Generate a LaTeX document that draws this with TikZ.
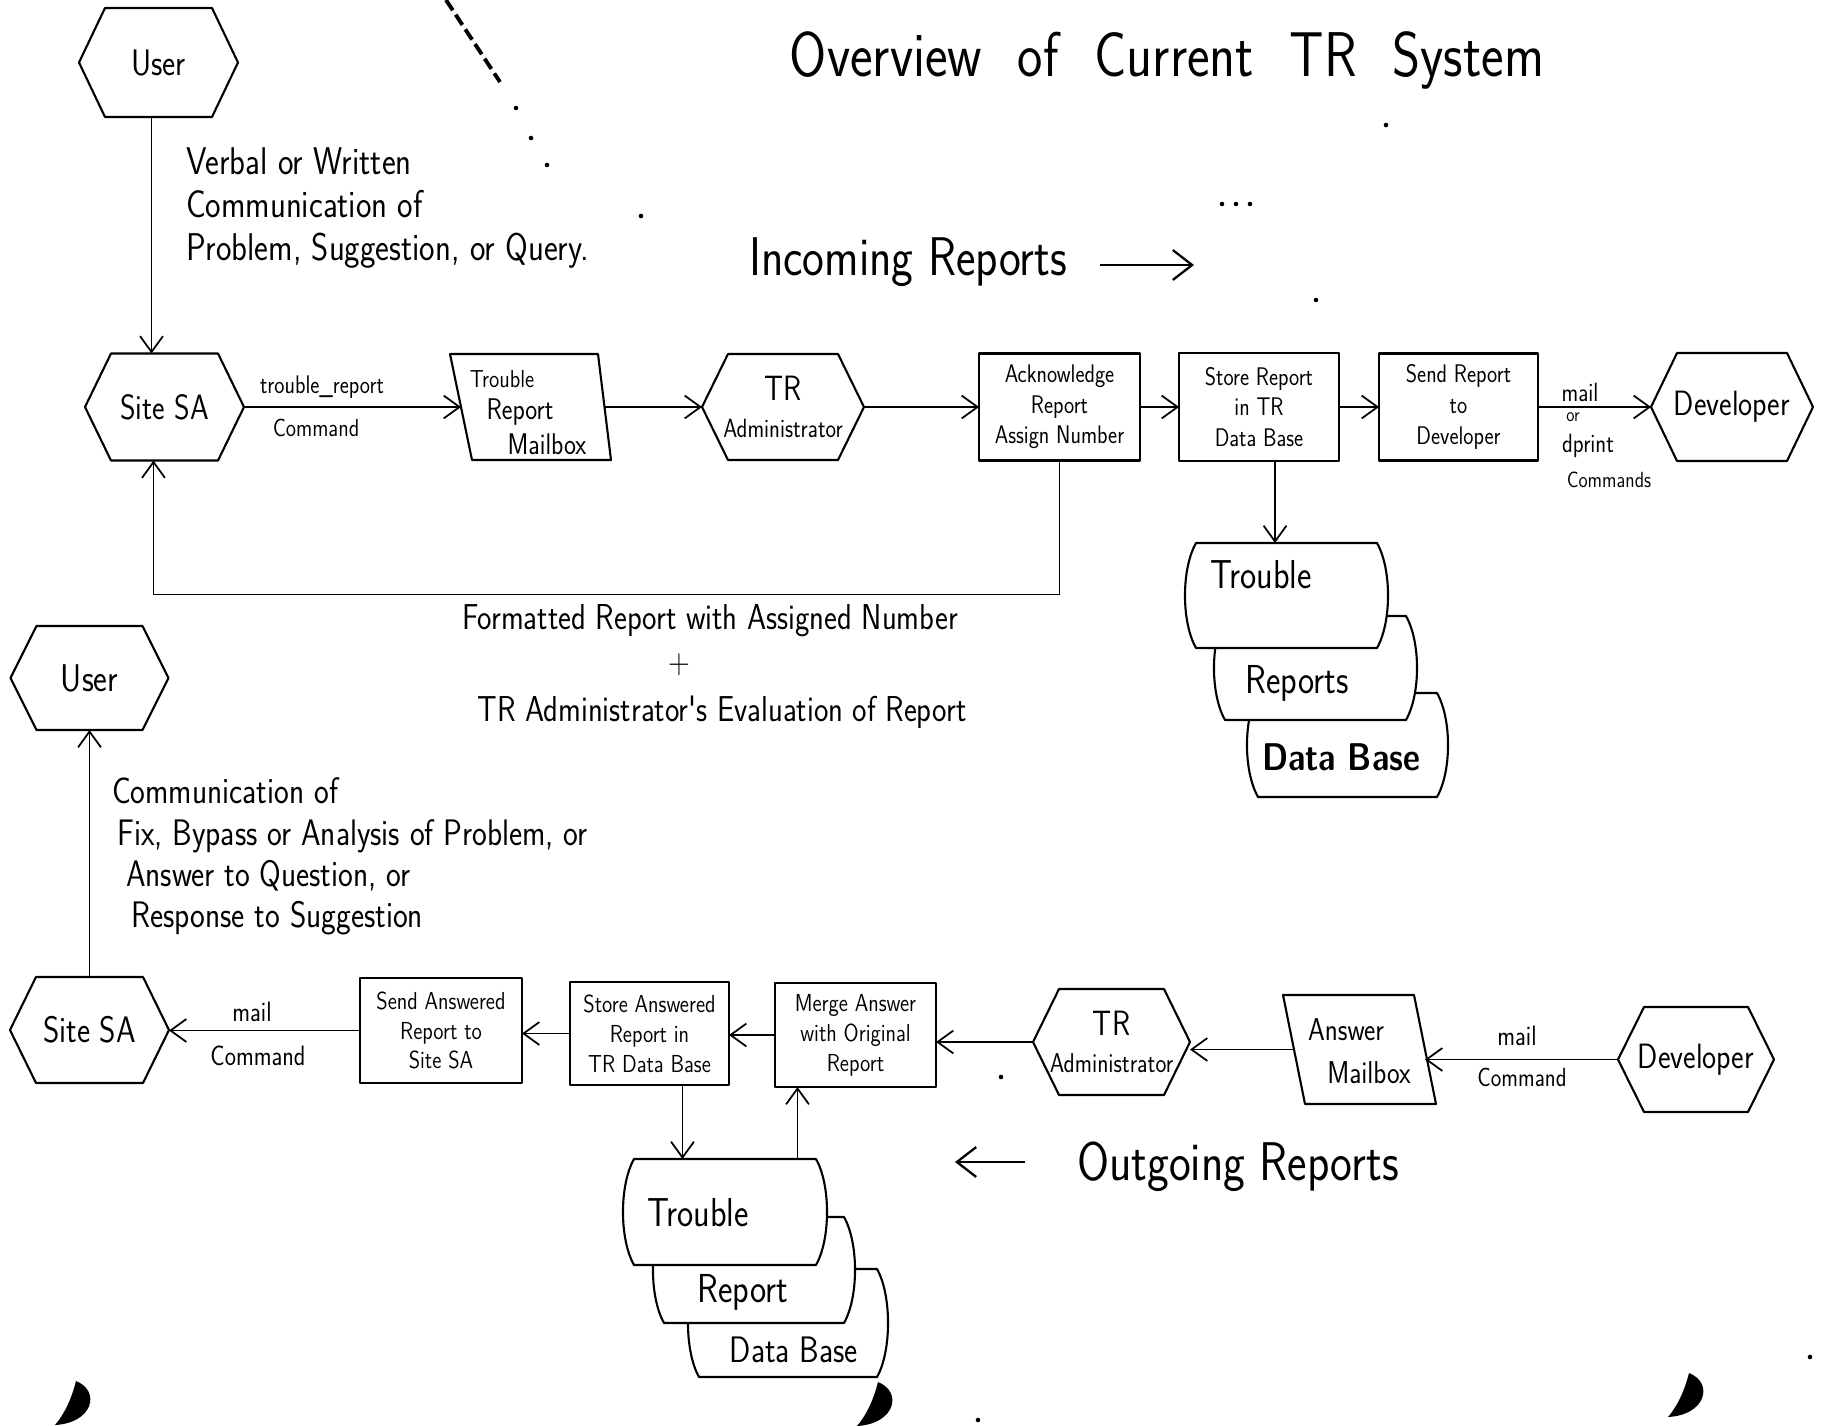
\documentclass[tikz,border=0pt]{standalone}
\usepackage{fontspec}
\newfontfamily\hand{Latin Modern Sans}[FakeStretch=0.85]
\usetikzlibrary{arrows.meta,calc}
\newcommand\hfs[2]{\fontsize{#1}{#2}\selectfont}

\tikzset{
  every node/.style={inner sep=0pt, outer sep=0pt, align=center},
  hw/.style 2 args={font=\hand\hfs{#1}{#2}},
  sz/.style 2 args={minimum width=#1*0.02cm, minimum height=#2*0.02cm},
  outline/.style={line width=1.2pt, line join=round},
  box/.style={draw, outline},
  link/.style={line width=1pt, -{Straight Barb[length=9pt,width=13pt]}},
  biglink/.style={line width=1.3pt, -{Straight Barb[length=11pt,width=17pt]}},
}

\begin{document}
\begin{tikzpicture}[x=0.02cm, y=-0.02cm]
\fill[white] (0,0) rectangle (1826,1426);
\useasboundingbox (0,0) rectangle (1826,1426);

% ---------- title and section headings ----------
\node[hw={36}{42}] (title) at (1167,60) {Overview\hspace{0.3em} of\hspace{0.3em} Current\hspace{0.3em} TR\hspace{0.3em} System};
\node[hw={31}{34}] (incoming) at (908,262) {Incoming Reports};
\coordinate (inArrA) at (1100,265);
\coordinate (inArrB) at (1194,265);
\draw[biglink] (inArrA) -- (inArrB);

\node[hw={31}{34}] (outgoing) at (1238,1167) {Outgoing Reports};
\coordinate (outArrA) at (1025,1162);
\coordinate (outArrB) at (955,1162);
\draw[biglink] (outArrA) -- (outArrB);

% ---------- incoming flow ----------
\node[hw={21}{24}, sz={159}{109}] (userT) at (158.5,62.5) {User};
\node[hw={20}{24}, sz={159}{107}] (siteT) at (164.5,407) {Site SA};
\node[sz={161}{106}] (mailT) at (530.5,407) {};
\node[hw={14}{17}] (mailTa) at (502,379) {Trouble};
\node[hw={17}{20}] (mailTb) at (520,412) {Report};
\node[hw={17}{20}] (mailTc) at (547,444) {Mailbox};
\node[hw={15}{18}, sz={162}{106}] (tradmT) at (783,407) {{\hfs{20}{24}TR}\\[3pt]Administrator};
\node[box, hw={14.5}{17.5}, sz={161}{107}] (ackT) at (1059.5,407) {Acknowledge\\Report\\Assign Number};
\node[box, hw={14.5}{17.5}, sz={160}{108}] (storeT) at (1259,407) {Store Report\\in TR\\Data Base};
\node[box, hw={14.5}{17.5}, sz={159}{107}] (sendT) at (1458.5,407) {Send Report\\to\\Developer};
\node[hw={20}{24}, sz={162}{108}] (devT) at (1732,407) {Developer};

\node[hw={22}{24.5}, anchor=north west, align=left] (verbal) at (186,148)
  {Verbal or Written\\Communication of\\Problem, Suggestion, or Query.};

\node[hw={14.5}{17}] (lblTR) at (322,387) {trouble\_report};
\node[hw={14}{17}] (lblCmd) at (316,428) {Command};
\node[hw={15}{18}] (lblMail) at (1580,392) {mail};
\node[hw={11}{13}] (lblOr) at (1573,417) {or};
\node[hw={15}{18}] (lblDprint) at (1588,446) {dprint};
\node[hw={12.5}{15}] (lblCmds) at (1609,480) {Commands};

\node[hw={20.5}{22}] (fbkA) at (710,621) {Formatted Report with Assigned Number};
\node[hw={20}{22}] (fbkB) at (679,665) {+};
\node[hw={20.5}{22}] (fbkC) at (722,712) {TR Administrator's Evaluation of Report};

% ---------- outgoing flow ----------
\node[hw={22}{26}, sz={158}{104}] (userB) at (89.5,678) {User};
\node[hw={21}{24}, sz={159}{106}] (siteB) at (89.5,1030) {Site SA};
\node[box, hw={14}{17}, sz={162}{105}] (sendB) at (441,1030.5) {Send Answered\\Report to\\Site SA};
\node[box, hw={14}{17}, sz={159}{103}] (storeB) at (649.5,1033.5) {Store Answered\\Report in\\TR Data Base};
\node[box, hw={14}{17}, sz={161}{104}] (mergeB) at (855.5,1035) {Merge Answer\\with Original\\Report};
\node[hw={15.5}{18}, sz={157}{106}] (tradmB) at (1111.5,1042) {{\hfs{20}{24}TR}\\[3pt]Administrator};
\node[sz={153}{109}] (ansB) at (1359.5,1049.5) {};
\node[hw={18}{20}] (ansBa) at (1346,1030) {Answer};
\node[hw={18}{20}] (ansBb) at (1369,1073) {Mailbox};
\node[hw={20}{24}, sz={156}{105}] (devB) at (1696,1059.5) {Developer};

\node[hw={21}{23.5}, anchor=north west, align=left] (answerNote) at (112,778)
  {Communication of\\\hspace*{3pt}Fix, Bypass or Analysis of Problem, or\\\hspace*{8pt}Answer to Question, or\\\hspace*{11pt}Response to Suggestion};

\node[hw={16}{19}] (lblMailB) at (252,1012) {mail};
\node[hw={16}{19}] (lblCmdB) at (258,1056) {Command};
\node[hw={16}{19}] (lblMailC) at (1517,1036) {mail};
\node[hw={15}{18}] (lblCmdC) at (1522,1077) {Command};

% ---------- hexagons and mailboxes ----------
\foreach \n in {userT,siteT,tradmT,devT,userB,siteB,tradmB,devB}
  \draw[outline] (\n.west) -- ($(\n.north west)+(26,0)$) -- ($(\n.north east)+(-26,0)$)
    -- (\n.east) -- ($(\n.south east)+(-26,0)$) -- ($(\n.south west)+(26,0)$) -- cycle;
\draw[outline] (mailT.north west) -- ($(mailT.north east)+(-13,0)$) -- (mailT.south east)
  -- ($(mailT.south west)+(22,0)$) -- cycle;
\draw[outline] (ansB.north west) -- ($(ansB.north east)+(-22,0)$) -- (ansB.south east)
  -- ($(ansB.south west)+(22,0)$) -- cycle;

% ---------- data base stacks ----------
\node[sz={203}{105}] (dbT1) at (1286.5,595.5) {};
\node[sz={203}{104}] (dbT2) at (1315.5,668) {};
\node[sz={201}{104}] (dbT3) at (1347.5,745) {};
\node[sz={204}{106}] (dbB1) at (725,1212) {};
\node[sz={202}{106}] (dbB2) at (754,1270) {};
\node[sz={200}{108}] (dbB3) at (788,1323) {};
\foreach \n in {dbT3,dbT2,dbT1,dbB3,dbB2,dbB1}
  \draw[outline, fill=white] ($(\n.north west)+(11,0)$) -- ($(\n.north east)+(-11,0)$)
    .. controls ($(\n.north east)+(3.7,26)$) and ($(\n.south east)+(3.7,-26)$) .. ($(\n.south east)+(-11,0)$)
    -- ($(\n.south west)+(11,0)$)
    .. controls ($(\n.south west)+(-3.7,-26)$) and ($(\n.north west)+(-3.7,26)$) .. cycle;
\node[hw={23}{26}] (dbT1t) at (1261,575) {Trouble};
\node[hw={23}{26}] (dbT2t) at (1297,683) {Reports};
\node[hw={22}{26}] (dbT3t) at (1341,757) {\bfseries Data Base};
\node[hw={23}{26}] (dbB1t) at (698,1213) {Trouble};
\node[hw={23}{26}] (dbB2t) at (743,1292) {Report};
\node[hw={21}{26}] (dbB3t) at (794,1350) {Data Base};

% ---------- connectors ----------
\draw[link] ($(userT.south)+(-7,0)$) -- ($(userT.south |- siteT.north)+(-7,0)$);
\draw[link] (siteT.east) -- ($(mailT.west)+(11,0)$);
\draw[link] ($(mailT.east)+(-6,0)$) -- (tradmT.west);
\draw[link] (tradmT.east) -- (ackT.west);
\draw[link] (ackT.east) -- (storeT.west);
\draw[link] (storeT.east) -- (sendT.west);
\draw[link] (sendT.east) -- (devT.west);
\draw[link] (ackT.south) -- ++(0,134) -| ($(siteT.south)+(-11,0)$);
\draw[link] ($(storeT.south)+(16,0)$) -- ($(storeT.south |- dbT1.north)+(16,0)$);

\draw[link] (siteB.north) -- (userB.south);
\draw[link] (sendB.west) -- (sendB.west -| siteB.east);
\draw[link] (storeB.west) -- (storeB.west -| sendB.east);
\draw[link] (mergeB.west) -- (mergeB.west -| storeB.east);
\draw[link] (tradmB.west) -- (tradmB.west -| mergeB.east);
\draw[link] ($(ansB.west)+(11,0)$) -- (ansB.west -| tradmB.east);
\draw[link] (devB.west) -- ($(devB.west -| ansB.east)+(-11,0)$);
\draw[link] ($(storeB.south)+(33,0)$) -- ($(storeB.south |- dbB1.north)+(33,0)$);
\draw[link] ($(mergeB.south |- dbB1.north)+(-58,0)$) -- ($(mergeB.south)+(-58,0)$);

% ---------- marks on the sheet ----------
\draw[line width=2.2pt, dash pattern=on 7pt off 3pt] (446,0) -- (500,82);
\foreach \sx/\sy in {516/108, 531/138, 547/165, 641/216, 1386/125, 1222/204, 1236/204, 1250/204, 1316/300, 1001/1077, 978/1420, 1810/1357}
  \fill (\sx,\sy) circle[radius=1.3pt];
\foreach \cx/\cy in {55/1381, 857/1382, 1668/1373}
  \fill[shift={(\cx,\cy)}] (21,0) .. controls (46,10) and (38,42) .. (0,44)
    .. controls (12,30) and (18,12) .. cycle;
\end{tikzpicture}
\end{document}
